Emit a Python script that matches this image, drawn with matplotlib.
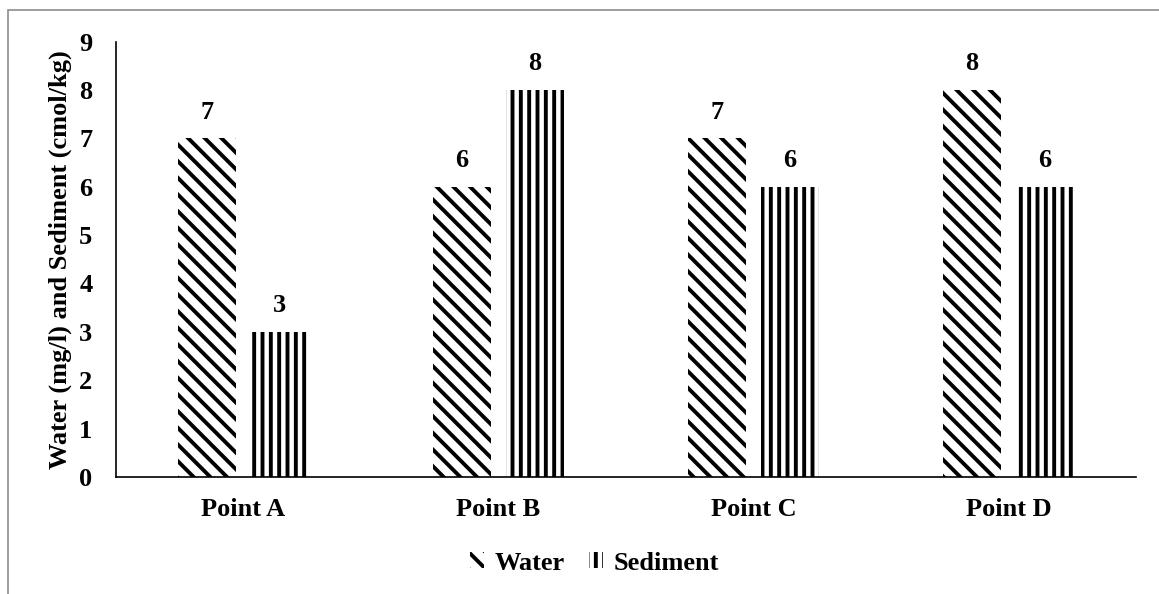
import numpy as np
import matplotlib.pyplot as plt
from matplotlib.patches import Rectangle

points = ['Point A', 'Point B', 'Point C', 'Point D']
water = [7, 6, 7, 8]
sediment = [3, 8, 6, 6]

plt.rcParams['font.family'] = 'Liberation Serif'
plt.rcParams['font.weight'] = 'bold'
plt.rcParams['hatch.linewidth'] = 2.8
plt.rcParams['hatch.color'] = 'black'

FS = 19

fig = plt.figure(figsize=(11.59, 5.94), dpi=100)
ax = fig.add_axes([0.1001, 0.197, 0.880, 0.733])

# grey frame around the whole chart
fig.patches.append(Rectangle((8 / 1159, -0.05), 1.1, 1 - 10 / 594 + 0.05,
                             transform=fig.transFigure, fill=False,
                             edgecolor='#8c8c8c', linewidth=1.2))

x = np.arange(len(points))
width = 0.227
gap = 0.058
off = (width + gap) / 2

b1 = ax.bar(x - off, water, width, color='white', edgecolor='black',
            linewidth=0, hatch='\\\\', label='Water')
b2 = ax.bar(x + off, sediment, width, color='white', edgecolor='black',
            linewidth=0, hatch='||', label='Sediment')

for bars, vals in ((b1, water), (b2, sediment)):
    for rect, v in zip(bars, vals):
        ax.text(rect.get_x() + rect.get_width() / 2, v + 0.3, str(v),
                ha='center', va='bottom', fontsize=FS, fontweight='bold')

ax.set_xlim(-0.5, len(points) - 0.5)
ax.set_ylim(0, 9)
ax.set_yticks(range(10))
ax.set_xticks(x)
ax.set_xticklabels(points)
ax.tick_params(axis='both', length=0, labelsize=FS)
ax.tick_params(axis='x', pad=15)
ax.tick_params(axis='y', pad=17)
for side in ('top', 'right'):
    ax.spines[side].set_visible(False)
ax.spines['left'].set_linewidth(1.2)
ax.spines['bottom'].set_linewidth(1.2)
ax.set_ylabel('Water (mg/l) and Sediment (cmol/kg)', fontsize=FS,
              fontweight='bold', labelpad=5)

fig.legend(handles=[b1, b2], loc='center', bbox_to_anchor=(0.513, 0.052),
           ncol=2, frameon=False, fontsize=FS, handlelength=0.55,
           handleheight=0.55, handletextpad=0.4, columnspacing=0.9)

fig.savefig('out.png', dpi=100)
